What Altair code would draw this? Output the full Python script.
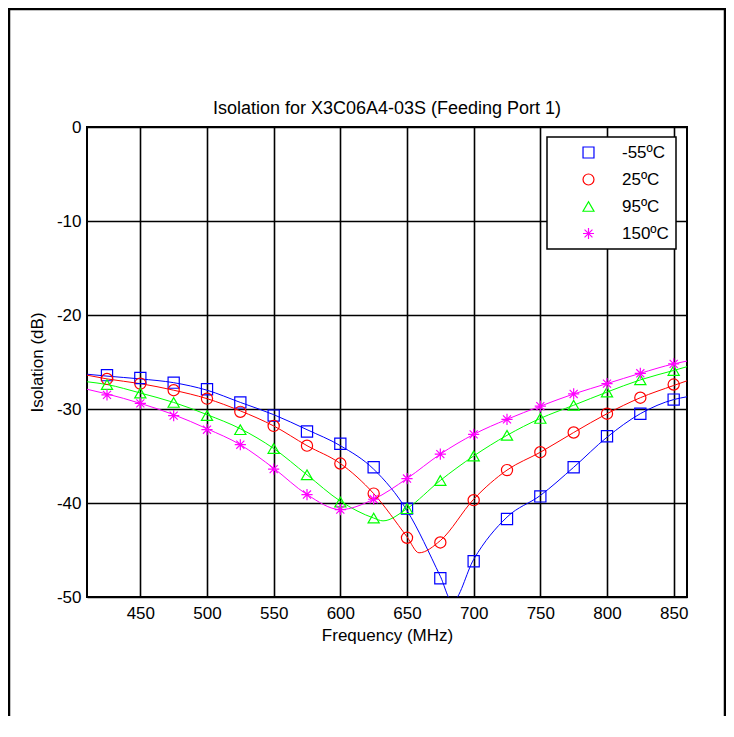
import altair as alt
import pandas as pd

# ---------------- data ----------------
freq = [425, 450, 475, 500, 525, 550, 575, 600, 625, 650, 675, 700, 725, 750, 775, 800, 825, 850]

series_names = ["-55ºC", "25ºC", "95ºC", "150ºC"]
series_colors = ["#0000FF", "#FF0000", "#00FF00", "#FF00FF"]

m55 = [-26.4, -26.7, -27.2, -27.9, -29.3, -30.7, -32.4, -33.7, -36.2, -40.6, -48.0, -46.2, -41.7, -39.3, -36.2, -32.9, -30.5, -29.0]
p25 = [-26.8, -27.3, -28.0, -28.9, -30.3, -31.8, -33.9, -35.8, -39.0, -43.7, -44.2, -39.7, -36.5, -34.6, -32.5, -30.5, -28.8, -27.4]
p95 = [-27.4, -28.3, -29.3, -30.7, -32.2, -34.2, -37.0, -39.9, -41.6, -40.6, -37.6, -35.0, -32.8, -31.0, -29.6, -28.2, -26.9, -25.9]
p150 = [-28.5, -29.4, -30.7, -32.2, -33.8, -36.4, -39.1, -40.7, -39.6, -37.4, -34.8, -32.7, -31.1, -29.7, -28.4, -27.3, -26.2, -25.2]

# traced curves (denser near the minima)
line_freq_m55 = [410, 425, 450, 475, 500, 525, 550, 575, 600, 625, 650, 675, 684, 700, 725, 750, 775, 800, 825, 850, 860]
line_m55 = [-26.3, -26.5, -26.8, -27.2, -28.0, -29.3, -30.6, -32.2, -33.9, -36.4, -40.8, -47.8, -50.5, -46.0, -41.5, -39.2, -36.2, -33.0, -30.5, -29.0, -28.7]

line_freq_p25 = [410, 425, 450, 475, 500, 525, 550, 575, 600, 625, 650, 659, 675, 700, 725, 750, 775, 800, 825, 850, 860]
line_p25 = [-26.4, -26.8, -27.3, -28.0, -28.9, -30.2, -31.8, -33.9, -35.8, -39.0, -43.6, -45.3, -44.0, -39.6, -36.5, -34.6, -32.5, -30.5, -28.8, -27.5, -27.0]

line_freq_p95 = [410, 425, 450, 475, 500, 525, 550, 575, 600, 625, 632, 650, 675, 700, 725, 750, 775, 800, 825, 850, 860]
line_p95 = [-27.1, -27.4, -28.3, -29.3, -30.6, -32.1, -34.2, -37.0, -39.8, -41.6, -41.9, -40.6, -37.6, -35.0, -32.8, -31.0, -29.6, -28.2, -26.9, -25.9, -25.5]

line_freq_p150 = [410, 425, 450, 475, 500, 525, 550, 575, 600, 625, 650, 675, 700, 725, 750, 775, 800, 825, 850, 860]
line_p150 = [-27.9, -28.4, -29.4, -30.6, -32.1, -33.8, -36.3, -39.1, -40.7, -39.6, -37.4, -34.8, -32.7, -31.1, -29.7, -28.4, -27.3, -26.2, -25.2, -24.9]

x_ticks = [450, 500, 550, 600, 650, 700, 750, 800, 850]
y_ticks = [0, -10, -20, -30, -40, -50]

# ---------------- tables ----------------
rows = []
for name, vals in zip(series_names, [m55, p25, p95, p150]):
    for f, v in zip(freq, vals):
        rows.append({"freq": f, "value": v, "series": name})
markers = pd.DataFrame(rows)

line_sets = [
    (line_freq_m55, line_m55),
    (line_freq_p25, line_p25),
    (line_freq_p95, line_p95),
    (line_freq_p150, line_p150),
]

FONT = "Liberation Sans"
star_path = "M-1,0L1,0M0,-1L0,1M-0.72,-0.72L0.72,0.72M-0.72,0.72L0.72,-0.72"

x_scale = alt.Scale(domain=[410, 860], nice=False, zero=False)
y_scale = alt.Scale(domain=[-50, 0], nice=False, zero=False)

x_axis = alt.Axis(values=x_ticks, title="Frequency (MHz)", grid=True, domain=False,
                  ticks=False, labelPadding=8, titlePadding=6,
                  labelExpr="'' + datum.value")
y_axis = alt.Axis(values=y_ticks, title="Isolation (dB)", grid=True, domain=False,
                  ticks=False, labelPadding=6, titlePadding=10,
                  labelExpr="'' + datum.value")

layers = []

frame = alt.Chart(pd.DataFrame({"k": [0]})).mark_rect(
    fill="transparent", stroke="black", strokeWidth=2.5
).encode(
    x=alt.value(-78), x2=alt.value(638), y=alt.value(-118), y2=alt.value(700)
)
layers.append(frame)

for (lf, lv), name, col in zip(line_sets, series_names, series_colors):
    df = pd.DataFrame({"freq": lf, "value": lv})
    layers.append(
        alt.Chart(df).mark_line(color=col, strokeWidth=1, interpolate="monotone", clip=True).encode(
            x=alt.X("freq:Q", scale=x_scale, axis=x_axis),
            y=alt.Y("value:Q", scale=y_scale, axis=y_axis),
        )
    )

points = alt.Chart(markers).mark_point(filled=False, size=125, strokeWidth=1.2, opacity=1).encode(
    x=alt.X("freq:Q", scale=x_scale, axis=x_axis),
    y=alt.Y("value:Q", scale=y_scale, axis=y_axis),
    color=alt.Color("series:N",
                    scale=alt.Scale(domain=series_names, range=series_colors),
                    legend=alt.Legend(orient="none", legendX=460, legendY=10, title=None,
                                      padding=7, symbolOffset=26, labelOffset=25, rowPadding=9,
                                      strokeColor="black", fillColor="white",
                                      labelFontSize=17, labelFont=FONT, labelColor="black",
                                      symbolSize=120, symbolStrokeWidth=1.2)),
    shape=alt.Shape("series:N",
                    scale=alt.Scale(domain=series_names,
                                    range=["square", "circle", "triangle-up", star_path])),
)
layers.append(points)

chart = alt.layer(*layers).properties(
    width=600,
    height=470,
    background="white",
    autosize=alt.AutoSizeParams(type="none"),
    padding={"left": 79, "top": 119, "right": 39, "bottom": 119},
    title=alt.TitleParams(text="Isolation for X3C06A4-03S (Feeding Port 1)", fontSize=18,
                          font=FONT, fontWeight="normal", color="black", offset=-110,
                          anchor="middle"),
).configure_view(
    stroke="black", strokeWidth=2, fill="white"
).configure_axis(
    gridColor="black", gridWidth=1.6, gridOpacity=1,
    labelFont=FONT, labelFontSize=17, labelColor="black",
    titleFont=FONT, titleFontSize=17, titleFontWeight="normal", titleColor="black",
).configure_legend(
    strokeWidth=1.5
)

chart.save("out.html", embed_options={"renderer": "svg", "actions": False})
